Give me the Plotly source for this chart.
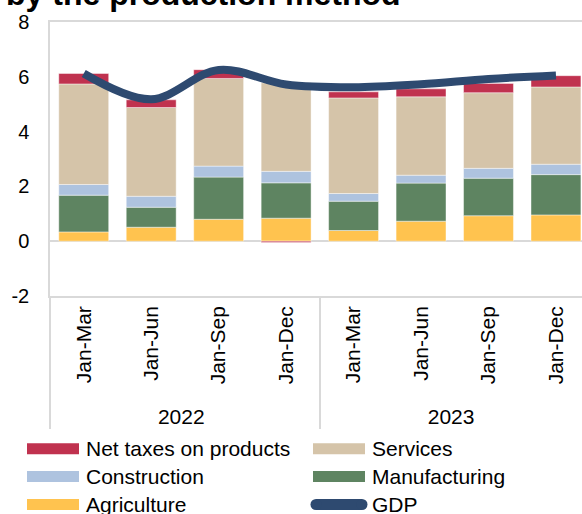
import plotly.graph_objects as go

# Quarterly cumulative periods, grouped by year
years = ["2022", "2022", "2022", "2022", "2023", "2023", "2023", "2023"]
periods = ["Jan-Mar", "Jan-Jun", "Jan-Sep", "Jan-Dec",
           "Jan-Mar", "Jan-Jun", "Jan-Sep", "Jan-Dec"]

# Contributions to GDP growth, percentage points (stacked bottom to top)
agriculture = [0.34, 0.51, 0.80, 0.84, 0.39, 0.73, 0.93, 0.96]
manufacturing = [1.34, 0.73, 1.54, 1.29, 1.07, 1.39, 1.37, 1.47]
construction = [0.39, 0.40, 0.40, 0.42, 0.28, 0.29, 0.36, 0.38]
services = [3.67, 3.24, 3.20, 3.23, 3.49, 2.86, 2.76, 2.82]
net_taxes = [0.38, 0.28, 0.32, -0.05, 0.22, 0.29, 0.34, 0.41]

# GDP growth, %
gdp = [6.12, 5.18, 6.25, 5.72, 5.62, 5.73, 5.92, 6.05]

y_ticks = [-2, 0, 2, 4, 6, 8]
y_tick_text = ["-2", "0", "2", "4", "6", "8"]

COLORS = {
    "Net taxes on products": "#C0324F",
    "Services": "#D5C4A9",
    "Construction": "#AEC3DF",
    "Manufacturing": "#5E8461",
    "Agriculture": "#FFC34F",
    "GDP": "#2E4A70",
}
FONT = "Liberation Sans, Arial, sans-serif"

W, H = 582, 514
M_L, M_R, M_T, M_B = 50, 0, 22, 218
PLOT_W = W - M_L - M_R
PLOT_H = H - M_T - M_B


def px_x(px):
    return (px - M_L) / PLOT_W


def px_y(py):
    return (H - M_B - py) / PLOT_H


x = [years, periods]

fig = go.Figure()
for name, vals in [("Agriculture", agriculture),
                   ("Manufacturing", manufacturing),
                   ("Construction", construction),
                   ("Services", services),
                   ("Net taxes on products", net_taxes)]:
    fig.add_trace(go.Bar(
        x=x, y=vals, name=name, showlegend=False,
        marker=dict(color=COLORS[name],
                    line=dict(color="rgba(255,255,255,0.55)", width=0.8)),
    ))

fig.add_trace(go.Scatter(
    x=x, y=gdp, name="GDP", mode="lines", showlegend=False,
    line=dict(color=COLORS["GDP"], width=8, shape="spline", smoothing=1),
))

# Legend drawn as swatches + labels in two columns
legend_rows = [
    [("Net taxes on products", "bar"), ("Services", "bar")],
    [("Construction", "bar"), ("Manufacturing", "bar")],
    [("Agriculture", "bar"), ("GDP", "line")],
]
row_y = [448.7, 476.5, 504.5]
col_x = [27, 313]
shapes = []
annotations = []
for r, row in enumerate(legend_rows):
    cy = row_y[r]
    for c, (name, kind) in enumerate(row):
        x0 = col_x[c]
        x1 = x0 + 52
        if kind == "bar":
            shapes.append(dict(type="rect", xref="paper", yref="paper",
                               x0=px_x(x0), x1=px_x(x1),
                               y0=px_y(cy - 5.5), y1=px_y(cy + 5.5),
                               fillcolor=COLORS[name], line=dict(width=0)))
        else:
            shapes.append(dict(type="rect", xref="paper", yref="paper",
                               x0=px_x(x0 + 3), x1=px_x(x1 - 3),
                               y0=px_y(cy - 5.5), y1=px_y(cy + 5.5),
                               fillcolor=COLORS[name], line=dict(width=0)))
            for ex in (x0 + 3, x1 - 3):
                shapes.append(dict(type="circle", xref="paper", yref="paper",
                                   x0=px_x(ex - 5.5), x1=px_x(ex + 5.5),
                                   y0=px_y(cy - 5.5), y1=px_y(cy + 5.5),
                                   fillcolor=COLORS[name], line=dict(width=0)))
        annotations.append(dict(text=name, xref="paper", yref="paper",
                                x=px_x(x1 + 5), y=px_y(cy), xanchor="left",
                                yanchor="middle", showarrow=False,
                                font=dict(family=FONT, size=21, color="#000")))

# Title (second line of a longer heading)
annotations.append(dict(text="<b>by the production method</b>",
                        xref="paper", yref="paper",
                        x=px_x(403), y=px_y(-6.5), xanchor="right",
                        yanchor="middle", showarrow=False,
                        font=dict(family=FONT, size=32, color="#000")))

fig.update_layout(
    template="none",
    width=W, height=H,
    margin=dict(l=M_L, r=M_R, t=M_T, b=M_B, pad=0),
    barmode="relative",
    bargap=0.26,
    paper_bgcolor="white",
    plot_bgcolor="white",
    font=dict(family=FONT, size=21, color="#000"),
    shapes=shapes,
    annotations=annotations,
    showlegend=False,
)
fig.update_xaxes(
    type="multicategory",
    range=[-0.5, 7.386],
    tickangle=-90,
    tickfont=dict(family=FONT, size=21, color="#000"),
    showline=True, linecolor="#D9D9D9", linewidth=1.5, mirror=True,
    showgrid=False, ticks="",
    showdividers=True, dividercolor="#D9D9D9", dividerwidth=1.5,
    automargin=False,
)
fig.update_yaxes(
    range=[-2, 8],
    tickvals=y_ticks,
    ticktext=y_tick_text,
    tickfont=dict(family=FONT, size=20, color="#000"),
    showline=True, linecolor="#D9D9D9", linewidth=1.5, mirror=True,
    showgrid=False, ticks="",
    zeroline=True, zerolinecolor="#D9D9D9", zerolinewidth=1.5,
    ticklabelstandoff=15,
    automargin=False,
)

fig.write_html("out.html")
